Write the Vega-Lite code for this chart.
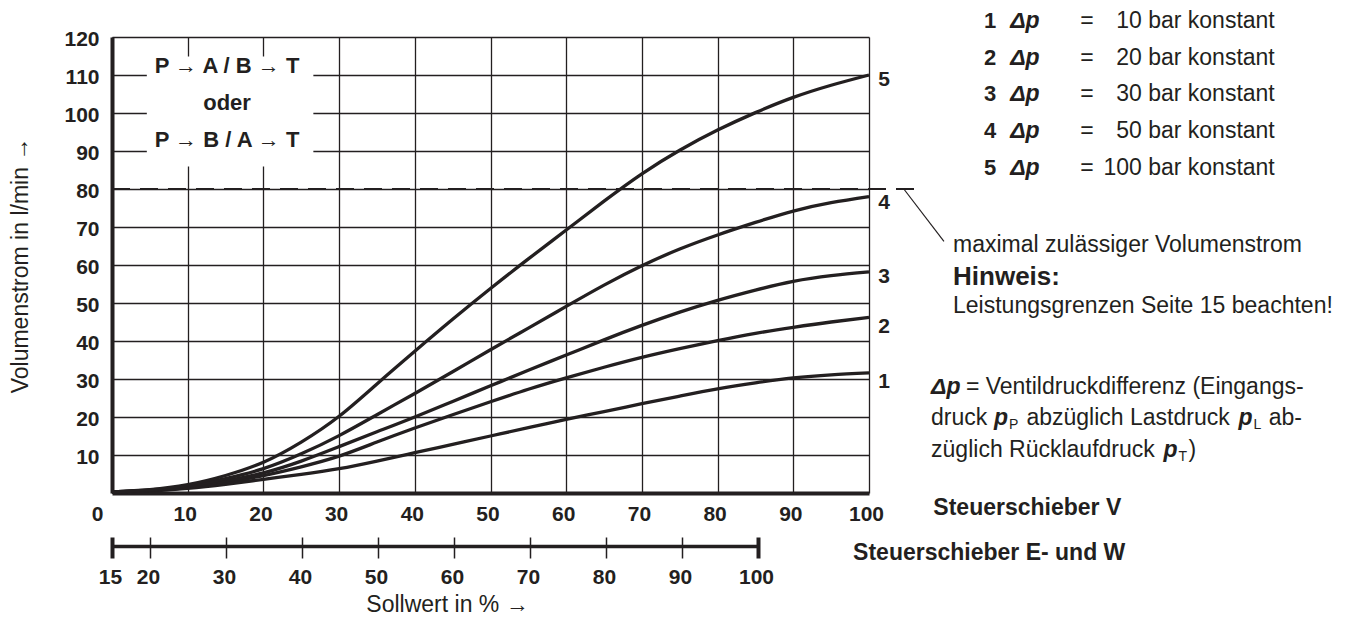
{
  "$schema": "https://vega.github.io/schema/vega-lite/v6.json",
  "width": 757,
  "height": 456,
  "autosize": "none",
  "padding": {"left": 112, "top": 37, "right": 478, "bottom": 126},
  "background": "white",
  "config": {
    "view": {"stroke": null},
    "axis": {"labelColor": "#231f20", "titleColor": "#231f20"}
  },
  "datasets": {
    "curves": [
      {"curve": "1", "x": 0, "y": 0.2}, {"curve": "1", "x": 5, "y": 0.5}, {"curve": "1", "x": 10, "y": 1.2}, {"curve": "1", "x": 15, "y": 2.3}, {"curve": "1", "x": 20, "y": 3.6}, {"curve": "1", "x": 25, "y": 4.9}, {"curve": "1", "x": 30, "y": 6.4}, {"curve": "1", "x": 35, "y": 8.4}, {"curve": "1", "x": 40, "y": 10.6}, {"curve": "1", "x": 45, "y": 12.8}, {"curve": "1", "x": 50, "y": 15}, {"curve": "1", "x": 55, "y": 17.2}, {"curve": "1", "x": 60, "y": 19.4}, {"curve": "1", "x": 65, "y": 21.4}, {"curve": "1", "x": 70, "y": 23.5}, {"curve": "1", "x": 75, "y": 25.5}, {"curve": "1", "x": 80, "y": 27.4}, {"curve": "1", "x": 85, "y": 29}, {"curve": "1", "x": 90, "y": 30.3}, {"curve": "1", "x": 95, "y": 31.1}, {"curve": "1", "x": 100, "y": 31.6},
      {"curve": "2", "x": 0, "y": 0.3}, {"curve": "2", "x": 5, "y": 0.6}, {"curve": "2", "x": 10, "y": 1.4}, {"curve": "2", "x": 15, "y": 2.8}, {"curve": "2", "x": 20, "y": 4.6}, {"curve": "2", "x": 25, "y": 6.9}, {"curve": "2", "x": 30, "y": 9.7}, {"curve": "2", "x": 35, "y": 13.4}, {"curve": "2", "x": 40, "y": 17.1}, {"curve": "2", "x": 45, "y": 20.6}, {"curve": "2", "x": 50, "y": 24}, {"curve": "2", "x": 55, "y": 27.3}, {"curve": "2", "x": 60, "y": 30.3}, {"curve": "2", "x": 65, "y": 33.1}, {"curve": "2", "x": 70, "y": 35.7}, {"curve": "2", "x": 75, "y": 38}, {"curve": "2", "x": 80, "y": 40.1}, {"curve": "2", "x": 85, "y": 42}, {"curve": "2", "x": 90, "y": 43.6}, {"curve": "2", "x": 95, "y": 45}, {"curve": "2", "x": 100, "y": 46.2},
      {"curve": "3", "x": 0, "y": 0.3}, {"curve": "3", "x": 5, "y": 0.7}, {"curve": "3", "x": 10, "y": 1.7}, {"curve": "3", "x": 15, "y": 3.2}, {"curve": "3", "x": 20, "y": 5.3}, {"curve": "3", "x": 25, "y": 8.4}, {"curve": "3", "x": 30, "y": 12.2}, {"curve": "3", "x": 35, "y": 16.1}, {"curve": "3", "x": 40, "y": 20}, {"curve": "3", "x": 45, "y": 24.1}, {"curve": "3", "x": 50, "y": 28.2}, {"curve": "3", "x": 55, "y": 32.3}, {"curve": "3", "x": 60, "y": 36.3}, {"curve": "3", "x": 65, "y": 40.3}, {"curve": "3", "x": 70, "y": 44.1}, {"curve": "3", "x": 75, "y": 47.6}, {"curve": "3", "x": 80, "y": 50.7}, {"curve": "3", "x": 85, "y": 53.4}, {"curve": "3", "x": 90, "y": 55.7}, {"curve": "3", "x": 95, "y": 57.2}, {"curve": "3", "x": 100, "y": 58.2},
      {"curve": "4", "x": 0, "y": 0.3}, {"curve": "4", "x": 5, "y": 0.8}, {"curve": "4", "x": 10, "y": 1.9}, {"curve": "4", "x": 15, "y": 3.8}, {"curve": "4", "x": 20, "y": 6.4}, {"curve": "4", "x": 25, "y": 10.3}, {"curve": "4", "x": 30, "y": 15.1}, {"curve": "4", "x": 35, "y": 20.6}, {"curve": "4", "x": 40, "y": 26.2}, {"curve": "4", "x": 45, "y": 31.9}, {"curve": "4", "x": 50, "y": 37.7}, {"curve": "4", "x": 55, "y": 43.4}, {"curve": "4", "x": 60, "y": 49.1}, {"curve": "4", "x": 65, "y": 54.7}, {"curve": "4", "x": 70, "y": 59.8}, {"curve": "4", "x": 75, "y": 64.2}, {"curve": "4", "x": 80, "y": 67.9}, {"curve": "4", "x": 85, "y": 71.2}, {"curve": "4", "x": 90, "y": 74.2}, {"curve": "4", "x": 95, "y": 76.4}, {"curve": "4", "x": 100, "y": 78},
      {"curve": "5", "x": 0, "y": 0.3}, {"curve": "5", "x": 5, "y": 0.9}, {"curve": "5", "x": 10, "y": 2.2}, {"curve": "5", "x": 15, "y": 4.6}, {"curve": "5", "x": 20, "y": 8.1}, {"curve": "5", "x": 25, "y": 13.4}, {"curve": "5", "x": 30, "y": 20.2}, {"curve": "5", "x": 35, "y": 28.7}, {"curve": "5", "x": 40, "y": 37.3}, {"curve": "5", "x": 45, "y": 45.7}, {"curve": "5", "x": 50, "y": 53.8}, {"curve": "5", "x": 55, "y": 61.6}, {"curve": "5", "x": 60, "y": 69.2}, {"curve": "5", "x": 65, "y": 76.8}, {"curve": "5", "x": 70, "y": 84}, {"curve": "5", "x": 75, "y": 90.2}, {"curve": "5", "x": 80, "y": 95.5}, {"curve": "5", "x": 85, "y": 100.1}, {"curve": "5", "x": 90, "y": 104.1}, {"curve": "5", "x": 95, "y": 107.3}, {"curve": "5", "x": 100, "y": 110}
    ],
    "box": [{"x": 4.6, "x2": 26.6, "y": 85.9, "y2": 114.9}],
    "limit": [{"x": 0, "x2": 107, "y": 80}],
    "leader": [{"x": 104.6, "y": 80}, {"x": 109.9, "y": 66.2}],
    "boxText": [
      {"t": "P → A / B → T", "x": 15.2, "y": 112.3},
      {"t": "oder", "x": 15.2, "y": 102.7},
      {"t": "P → B / A → T", "x": 15.2, "y": 92.8}
    ],
    "curveLabels": [
      {"t": "5", "x": 102, "y": 108.8},
      {"t": "4", "x": 102, "y": 76.4},
      {"t": "3", "x": 102, "y": 56.9},
      {"t": "2", "x": 102, "y": 43.7},
      {"t": "1", "x": 102, "y": 29.2}
    ],
    "legendNum": [
      {"t": "1", "x": 115.2, "y": 124.2}, {"t": "2", "x": 115.2, "y": 114.6}, {"t": "3", "x": 115.2, "y": 104.9}, {"t": "4", "x": 115.2, "y": 95.3}, {"t": "5", "x": 115.2, "y": 85.6}
    ],
    "boldItalic": [
      {"t": "Δp", "x": 118.65, "y": 124.2}, {"t": "Δp", "x": 118.65, "y": 114.6}, {"t": "Δp", "x": 118.65, "y": 104.9}, {"t": "Δp", "x": 118.65, "y": 95.3}, {"t": "Δp", "x": 118.65, "y": 85.6},
      {"t": "Δp", "x": 108.2, "y": 27.9},
      {"t": "p", "x": 116.5, "y": 19.8},
      {"t": "p", "x": 148.8, "y": 19.8},
      {"t": "p", "x": 138.9, "y": 11.3}
    ],
    "regularLeft": [
      {"t": "=", "x": 127.9, "y": 124.2}, {"t": "=", "x": 127.9, "y": 114.6}, {"t": "=", "x": 127.9, "y": 104.9}, {"t": "=", "x": 127.9, "y": 95.3}, {"t": "=", "x": 127.9, "y": 85.6},
      {"t": "maximal zulässiger Volumenstrom", "x": 111.1, "y": 65.3},
      {"t": "Leistungsgrenzen Seite 15 beachten!", "x": 111.1, "y": 49.3},
      {"t": "= Ventildruckdifferenz (Eingangs-", "x": 112.8, "y": 27.9},
      {"t": "druck", "x": 108.2, "y": 19.8},
      {"t": "abzüglich Lastdruck", "x": 120.8, "y": 19.8},
      {"t": "ab-", "x": 152.8, "y": 19.8},
      {"t": "züglich Rücklaufdruck", "x": 108.2, "y": 11.3},
      {"t": ")", "x": 142.2, "y": 11.3}
    ],
    "legendVal": [
      {"t": "10 bar konstant", "x": 153.6, "y": 124.2},
      {"t": "20 bar konstant", "x": 153.6, "y": 114.6},
      {"t": "30 bar konstant", "x": 153.6, "y": 104.9},
      {"t": "50 bar konstant", "x": 153.6, "y": 95.3},
      {"t": "100 bar konstant", "x": 153.6, "y": 85.6}
    ],
    "subs": [
      {"t": "P", "x": 118.5, "y": 17.9},
      {"t": "L", "x": 150.8, "y": 17.9},
      {"t": "T", "x": 140.9, "y": 9.4}
    ],
    "boldLeft": [
      {"t": "Steuerschieber V", "x": 108.5, "y": -4.0},
      {"t": "Steuerschieber E- und W", "x": 97.9, "y": -15.8}
    ],
    "hinweis": [{"t": "Hinweis:", "x": 111.1, "y": 56.9}],
    "sollwert": [{"v": 15}, {"v": 100}]
  },
  "layer": [
    {
      "layer": [
        {
          "data": {"name": "box"},
          "mark": {"type": "rect", "fill": "white"},
          "encoding": {
            "x": {"field": "x", "type": "quantitative", "scale": {"domain": [0, 100], "nice": false, "zero": false},
              "axis": {
                "orient": "bottom", "title": null,
                "values": [0, 10, 20, 30, 40, 50, 60, 70, 80, 90, 100],
                "domain": true, "domainColor": "#231f20", "domainWidth": 4,
                "ticks": false, "tickSize": 0,
                "grid": true, "gridColor": "#231f20", "gridWidth": 1.3, "gridOpacity": 1,
                "labelFont": "Liberation Sans", "labelFontSize": 21, "labelFontWeight": "bold",
                "labelPadding": 10, "labelFlush": false, "labelOverlap": false,
                "labelOffset": {"condition": {"test": "datum.value === 0", "value": -15}, "value": -3}
              }},
            "x2": {"field": "x2"},
            "y": {"field": "y", "type": "quantitative", "scale": {"domain": [0, 120], "nice": false, "zero": false},
              "axis": {
                "orient": "left", "title": "Volumenstrom in l/min →",
                "values": [10, 20, 30, 40, 50, 60, 70, 80, 90, 100, 110, 120],
                "domain": true, "domainColor": "#231f20", "domainWidth": 4,
                "ticks": false, "tickSize": 0,
                "grid": true, "gridColor": "#231f20", "gridWidth": 1.3, "gridOpacity": 1,
                "labelFont": "Liberation Sans", "labelFontSize": 21, "labelFontWeight": "bold",
                "labelPadding": 13, "labelFlush": false, "labelOverlap": false, "labelOffset": 2,
                "titleFont": "Liberation Sans", "titleFontSize": 23, "titleFontWeight": "normal",
                "titleAngle": 270, "titleX": -85, "titleY": 228, "titleBaseline": "alphabetic", "titleAlign": "center"
              }},
            "y2": {"field": "y2"}
          }
        },
        {
          "data": {"name": "limit"},
          "mark": {"type": "rule", "strokeDash": [18, 10], "strokeWidth": 2, "color": "#231f20"},
          "encoding": {
            "x": {"field": "x", "type": "quantitative"},
            "x2": {"field": "x2"},
            "y": {"field": "y", "type": "quantitative"}
          }
        },
        {
          "data": {"name": "curves"},
          "mark": {"type": "line", "interpolate": "natural", "strokeWidth": 3.3, "color": "#231f20"},
          "encoding": {
            "x": {"field": "x", "type": "quantitative"},
            "y": {"field": "y", "type": "quantitative"},
            "detail": {"field": "curve"}
          }
        },
        {
          "data": {"name": "leader"},
          "mark": {"type": "line", "strokeWidth": 1.2, "color": "#231f20"},
          "encoding": {
            "x": {"field": "x", "type": "quantitative"},
            "y": {"field": "y", "type": "quantitative"}
          }
        },
        {
          "data": {"name": "boxText"},
          "mark": {"type": "text", "font": "Liberation Sans", "fontSize": 22, "fontWeight": "bold", "align": "center", "baseline": "middle", "color": "#231f20"},
          "encoding": {"x": {"field": "x", "type": "quantitative"}, "y": {"field": "y", "type": "quantitative"}, "text": {"field": "t"}}
        },
        {
          "data": {"name": "curveLabels"},
          "mark": {"type": "text", "font": "Liberation Sans", "fontSize": 21, "fontWeight": "bold", "align": "center", "baseline": "middle", "color": "#231f20"},
          "encoding": {"x": {"field": "x", "type": "quantitative"}, "y": {"field": "y", "type": "quantitative"}, "text": {"field": "t"}}
        },
        {
          "data": {"name": "legendNum"},
          "mark": {"type": "text", "font": "Liberation Sans", "fontSize": 22, "fontWeight": "bold", "align": "left", "baseline": "middle", "color": "#231f20"},
          "encoding": {"x": {"field": "x", "type": "quantitative"}, "y": {"field": "y", "type": "quantitative"}, "text": {"field": "t"}}
        },
        {
          "data": {"name": "boldItalic"},
          "mark": {"type": "text", "font": "Liberation Sans", "fontSize": 23, "fontWeight": "bold", "fontStyle": "italic", "align": "left", "baseline": "middle", "color": "#231f20"},
          "encoding": {"x": {"field": "x", "type": "quantitative"}, "y": {"field": "y", "type": "quantitative"}, "text": {"field": "t"}}
        },
        {
          "data": {"name": "regularLeft"},
          "mark": {"type": "text", "font": "Liberation Sans", "fontSize": 23, "fontWeight": "normal", "align": "left", "baseline": "middle", "color": "#231f20"},
          "encoding": {"x": {"field": "x", "type": "quantitative"}, "y": {"field": "y", "type": "quantitative"}, "text": {"field": "t"}}
        },
        {
          "data": {"name": "legendVal"},
          "mark": {"type": "text", "font": "Liberation Sans", "fontSize": 23, "fontWeight": "normal", "align": "right", "baseline": "middle", "color": "#231f20"},
          "encoding": {"x": {"field": "x", "type": "quantitative"}, "y": {"field": "y", "type": "quantitative"}, "text": {"field": "t"}}
        },
        {
          "data": {"name": "subs"},
          "mark": {"type": "text", "font": "Liberation Sans", "fontSize": 14, "fontWeight": "normal", "align": "left", "baseline": "middle", "color": "#231f20"},
          "encoding": {"x": {"field": "x", "type": "quantitative"}, "y": {"field": "y", "type": "quantitative"}, "text": {"field": "t"}}
        },
        {
          "data": {"name": "boldLeft"},
          "mark": {"type": "text", "font": "Liberation Sans", "fontSize": 23, "fontWeight": "bold", "align": "left", "baseline": "middle", "color": "#231f20"},
          "encoding": {"x": {"field": "x", "type": "quantitative"}, "y": {"field": "y", "type": "quantitative"}, "text": {"field": "t"}}
        },
        {
          "data": {"name": "hinweis"},
          "mark": {"type": "text", "font": "Liberation Sans", "fontSize": 26, "fontWeight": "bold", "align": "left", "baseline": "middle", "color": "#231f20"},
          "encoding": {"x": {"field": "x", "type": "quantitative"}, "y": {"field": "y", "type": "quantitative"}, "text": {"field": "t"}}
        }
      ]
    },
    {
      "data": {"name": "sollwert"},
      "mark": {"type": "point", "opacity": 0},
      "encoding": {
        "x": {"field": "v", "type": "quantitative",
          "scale": {"domain": [15, 100], "range": [0, 646], "nice": false, "zero": false},
          "axis": {
            "orient": "bottom", "offset": 44, "domain": false, "grid": false,
            "values": [15, 20, 30, 40, 50, 60, 70, 80, 90, 100],
            "ticks": true, "tickSize": 21, "tickColor": "#231f20",
            "tickWidth": {"condition": {"test": "datum.value === 15 || datum.value === 100", "value": 4}, "value": 1.5},
            "labelFont": "Liberation Sans", "labelFontSize": 21, "labelFontWeight": "bold",
            "labelPadding": 8, "labelFlush": false, "labelOverlap": false, "labelOffset": -2,
            "title": "Sollwert in % →", "titleFont": "Liberation Sans", "titleFontSize": 23, "titleFontWeight": "normal",
            "titlePadding": 6, "titleX": 335
          }}
      }
    },
    {
      "data": {"name": "sollwert"},
      "mark": {"type": "point", "opacity": 0},
      "encoding": {
        "x": {"field": "v", "type": "quantitative",
          "scale": {"domain": [15, 100], "range": [0, 646], "nice": false, "zero": false},
          "axis": {
            "orient": "bottom", "offset": 53, "domain": true, "domainColor": "#231f20", "domainWidth": 3.5,
            "grid": false, "ticks": false, "labels": false, "title": null
          }}
      }
    }
  ],
  "resolve": {"scale": {"x": "independent"}, "axis": {"x": "independent"}}
}
